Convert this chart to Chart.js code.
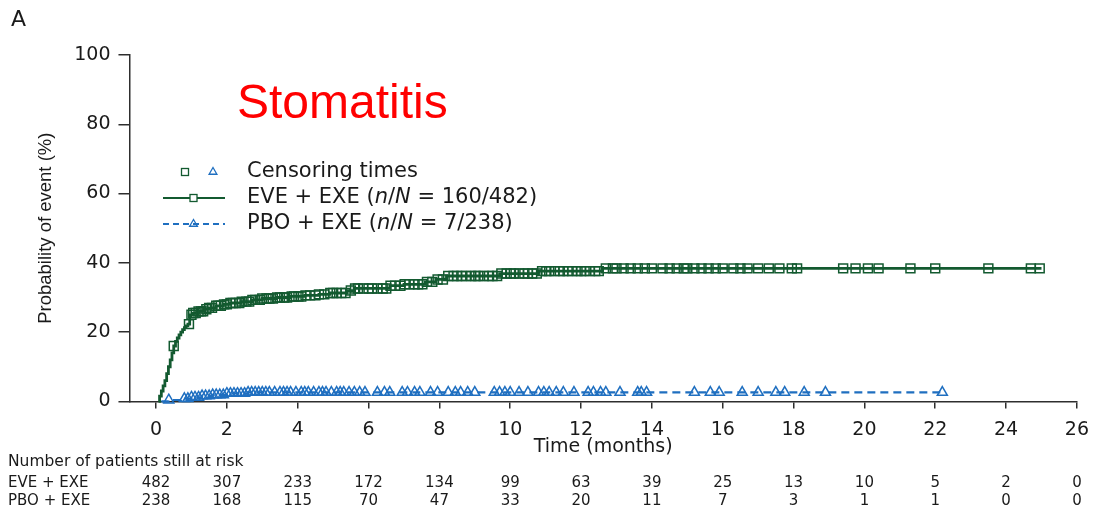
<!DOCTYPE html>
<html>
<head>
<meta charset="utf-8">
<title>Stomatitis</title>
<script src="https://cdn.jsdelivr.net/npm/chart.js@4.4.1/dist/chart.umd.min.js"></script>
<style>
  html, body { margin: 0; padding: 0; background: #fff; }
  #wrap { width: 1099px; height: 509px; position: relative; }
</style>
</head>
<body>
<div id="wrap"><canvas id="kmChart" width="1099" height="509"></canvas></div>
<script>
// ---- data ----
var xTicks = [0, 2, 4, 6, 8, 10, 12, 14, 16, 18, 20, 22, 24, 26];
var yTicks = [0, 20, 40, 60, 80, 100];

// cumulative probability of stomatitis (%), step after each event time (months)
var eveTimes = [0.07, 0.1, 0.15, 0.2, 0.25, 0.3, 0.35, 0.4, 0.45, 0.5, 0.55, 0.6, 0.65, 0.7, 0.75, 0.8, 0.85, 0.9,
                0.95, 1.05, 1.2, 1.35, 1.5, 1.7, 1.9, 2.1, 2.4, 2.7, 3.0, 3.4, 3.8, 4.2, 4.6, 4.9, 5.4, 5.6,
                6.6, 7.0, 7.6, 7.9, 8.2, 9.7, 10.8, 12.6, 25.0];
var eveProb  = [0, 1.5, 3, 4.5, 6, 8, 10, 12, 14, 16, 17.3, 18.3, 19.2, 20, 20.7, 21.3, 21.8, 22.3,
                25, 25.5, 26, 26.6, 27, 27.6, 28, 28.4, 28.8, 29.3, 29.7, 30, 30.3, 30.6, 30.9, 31.3, 32, 32.6,
                33.4, 33.8, 34.5, 35.2, 36.2, 36.9, 37.6, 38.4, 38.4];

var pboTimes = [0.15, 0.35, 0.7, 1.0, 1.3, 1.6, 2.0, 2.6, 22.2];
var pboProb  = [0, 0.4, 0.8, 1.2, 1.6, 1.9, 2.3, 2.6, 2.6];

// censoring times (months)
var eveCensor = [0.5, 0.93, 1.0, 1.05, 1.12, 1.2, 1.27, 1.33, 1.42, 1.5, 1.58, 1.7, 1.76, 1.83, 1.92, 2.0, 2.1, 2.17,
                 2.25, 2.35, 2.42, 2.55, 2.63, 2.72, 2.8, 2.93, 3.0, 3.12, 3.2, 3.3, 3.42, 3.5, 3.62, 3.7, 3.83,
                 3.9, 4.02, 4.1, 4.22, 4.35, 4.5, 4.6, 4.75, 4.92, 5.0, 5.1, 5.23, 5.35, 5.5, 5.62, 5.7, 5.85,
                 6.0, 6.1, 6.25, 6.4, 6.5, 6.62, 6.75, 6.9, 7.02, 7.15, 7.3, 7.4, 7.52, 7.65, 7.8, 7.95, 8.1,
                 8.25, 8.4, 8.5, 8.62, 8.75, 8.9, 9.02, 9.1, 9.25, 9.4, 9.5, 9.63, 9.75, 9.9, 10.02, 10.1,
                 10.25, 10.4, 10.5, 10.62, 10.75, 10.9, 11.02, 11.1, 11.25, 11.4, 11.5, 11.62, 11.75, 11.9,
                 12.0, 12.1, 12.25, 12.4, 12.5, 12.7, 12.9, 13.0, 13.2, 13.4, 13.6, 13.8, 14.0, 14.3, 14.5,
                 14.7, 14.9, 15.0, 15.2, 15.4, 15.6, 15.8, 16.0, 16.3, 16.5, 16.7, 17.0, 17.3, 17.6, 17.95,
                 18.1, 19.4, 19.75, 20.1, 20.4, 21.3, 22.0, 23.5, 24.7, 24.95];
var pboCensor = [0.36, 0.8, 0.9, 1.0, 1.1, 1.2, 1.3, 1.4, 1.5, 1.6, 1.7, 1.8, 1.9, 2.0, 2.1, 2.2, 2.3, 2.4, 2.5,
                 2.6, 2.7, 2.8, 2.9, 3.0, 3.1, 3.2, 3.35, 3.5, 3.6, 3.7, 3.8, 3.95, 4.1, 4.2, 4.3, 4.45, 4.6,
                 4.7, 4.8, 4.95, 5.1, 5.2, 5.3, 5.45, 5.6, 5.75, 5.9, 6.25, 6.45, 6.6, 6.95, 7.1, 7.3, 7.45,
                 7.75, 7.95, 8.25, 8.45, 8.6, 8.8, 9.0, 9.55, 9.7, 9.85, 10.0, 10.25, 10.5, 10.8, 10.95, 11.1,
                 11.3, 11.5, 11.8, 12.2, 12.35, 12.55, 12.7, 13.1, 13.6, 13.7, 13.85, 15.2, 15.65, 15.9,
                 16.55, 17.0, 17.5, 17.75, 18.3, 18.9, 22.2];

// number of patients still at risk at each x tick
var riskEve = [482, 307, 233, 172, 134, 99, 63, 39, 25, 13, 10, 5, 2, 0];
var riskPbo = [238, 168, 115, 70, 47, 33, 20, 11, 7, 3, 1, 1, 0, 0];

var green = "#135a30";
var blue = "#1f6fc0";
var axisColor = "#2e2e2e";
var textColor = "#1a1a1a";

Chart.defaults.font.family = "'DejaVu Sans', sans-serif";
Chart.defaults.color = textColor;

function toPoints(xs, ys) {
    var out = [];
    for (var i = 0; i < xs.length; i++) out.push({ x: xs[i], y: ys[i] });
    return out;
}

// value of the step curve at time t
function levelAt(times, probs, t) {
    var v = probs[0];
    for (var i = 0; i < times.length; i++) {
        if (times[i] <= t) v = probs[i];
    }
    return v;
}

function censorPoints(cens, times, probs) {
    var out = [];
    for (var i = 0; i < cens.length; i++) out.push({ x: cens[i], y: levelAt(times, probs, cens[i]) });
    return out;
}

// ---- extra text: panel letter, title, legend, at-risk table ----
var overlayPlugin = {
    id: "overlay",
    afterDraw: function(chart) {
        var ctx = chart.ctx;
        var xs = chart.scales.x;
        ctx.save();

        ctx.fillStyle = textColor;
        ctx.textBaseline = "middle";
        ctx.textAlign = "left";
        ctx.font = "22px 'DejaVu Sans'";
        ctx.fillText("A", 11, 20);

        ctx.fillStyle = "#ff0000";
        ctx.font = "48px 'Liberation Sans'";
        ctx.fillText("Stomatitis", 237, 105);

        // legend
        var lx = 247;
        var rows = [172, 198, 224];
        ctx.lineWidth = 1.3;
        ctx.strokeStyle = green;
        ctx.strokeRect(181.5, rows[0] - 3.5, 7, 7);
        drawTriangle(ctx, 213, rows[0], 4.5, blue);

        ctx.strokeStyle = green;
        ctx.lineWidth = 2.2;
        ctx.beginPath();
        ctx.moveTo(163, rows[1]);
        ctx.lineTo(225, rows[1]);
        ctx.stroke();
        ctx.fillStyle = "#fff";
        ctx.lineWidth = 1.3;
        ctx.fillRect(190, rows[1] - 3.5, 7, 7);
        ctx.strokeRect(190, rows[1] - 3.5, 7, 7);

        ctx.strokeStyle = blue;
        ctx.lineWidth = 2;
        ctx.setLineDash([6, 4]);
        ctx.beginPath();
        ctx.moveTo(163, rows[2]);
        ctx.lineTo(225, rows[2]);
        ctx.stroke();
        ctx.setLineDash([]);
        drawTriangle(ctx, 193.5, rows[2], 4.5, blue);

        ctx.fillStyle = textColor;
        ctx.font = "21px 'DejaVu Sans'";
        ctx.fillText("Censoring times", lx, rows[0]);
        drawRuns(ctx, lx, rows[1], [["EVE + EXE (", false], ["n", true], ["/", false], ["N", true], [" = 160/482)", false]]);
        drawRuns(ctx, lx, rows[2], [["PBO + EXE (", false], ["n", true], ["/", false], ["N", true], [" = 7/238)", false]]);

        // at-risk table
        ctx.fillStyle = textColor;
        ctx.font = "15.5px 'DejaVu Sans'";
        ctx.textAlign = "left";
        ctx.fillText("Number of patients still at risk", 8, 462);
        ctx.font = "15px 'DejaVu Sans'";
        ctx.fillText("EVE + EXE", 8, 483);
        ctx.fillText("PBO + EXE", 8, 501);
        ctx.textAlign = "center";
        for (var i = 0; i < xTicks.length; i++) {
            var px = xs.getPixelForValue(xTicks[i]);
            ctx.fillText(String(riskEve[i]), px, 483);
            ctx.fillText(String(riskPbo[i]), px, 501);
        }
        ctx.restore();
    }
};

function drawTriangle(ctx, x, y, r, color) {
    ctx.save();
    ctx.strokeStyle = color;
    ctx.lineWidth = 1.3;
    ctx.beginPath();
    ctx.moveTo(x, y - r);
    ctx.lineTo(x + r * 0.866, y + r * 0.5);
    ctx.lineTo(x - r * 0.866, y + r * 0.5);
    ctx.closePath();
    ctx.stroke();
    ctx.restore();
}

function drawRuns(ctx, x, y, runs) {
    for (var i = 0; i < runs.length; i++) {
        ctx.font = (runs[i][1] ? "oblique " : "") + "21px 'DejaVu Sans'";
        ctx.fillText(runs[i][0], x, y);
        x += ctx.measureText(runs[i][0]).width;
    }
}

var ctx = document.getElementById("kmChart").getContext("2d");
new Chart(ctx, {
    type: "line",
    data: {
        datasets: [
            {
                label: "EVE + EXE censored",
                data: censorPoints(eveCensor, eveTimes, eveProb),
                showLine: false,
                pointStyle: "rect",
                pointRadius: 6.3,
                pointBorderWidth: 1.5,
                pointBorderColor: green,
                pointBackgroundColor: "rgba(0,0,0,0)",
                clip: false,
                order: 0
            },
            {
                label: "PBO + EXE censored",
                data: censorPoints(pboCensor, pboTimes, pboProb),
                showLine: false,
                pointStyle: "triangle",
                pointRadius: 5.8,
                pointBorderWidth: 1.5,
                pointBorderColor: blue,
                pointBackgroundColor: "rgba(0,0,0,0)",
                clip: false,
                order: 0
            },
            {
                label: "EVE + EXE",
                data: toPoints(eveTimes, eveProb),
                stepped: true,
                borderColor: green,
                borderWidth: 2.8,
                pointRadius: 0,
                clip: false,
                order: 1
            },
            {
                label: "PBO + EXE",
                data: toPoints(pboTimes, pboProb),
                stepped: true,
                borderColor: blue,
                borderWidth: 2.2,
                borderDash: [8, 5],
                pointRadius: 0,
                clip: false,
                order: 1
            }
        ]
    },
    options: {
        responsive: false,
        animation: false,
        devicePixelRatio: 1,
        layout: { padding: { left: 35, right: 17, top: 55, bottom: 51 } },
        plugins: {
            legend: { display: false },
            tooltip: { enabled: false }
        },
        scales: {
            x: {
                type: "linear",
                min: -0.75,
                max: 26,
                afterBuildTicks: function(scale) {
                    scale.ticks = xTicks.map(function(v) { return { value: v }; });
                },
                grid: { display: true, drawOnChartArea: false, drawTicks: true, tickLength: 7, color: axisColor, lineWidth: 1.5 },
                border: { display: true, color: axisColor, width: 1.5 },
                ticks: { padding: 10, color: textColor, font: { size: 19 }, maxRotation: 0, autoSkip: false },
                title: { display: true, text: "Time (months)", color: textColor, font: { size: 19 }, padding: { top: -16, bottom: 0 } }
            },
            y: {
                min: 0,
                max: 100,
                afterBuildTicks: function(scale) {
                    scale.ticks = yTicks.map(function(v) { return { value: v }; });
                },
                grid: { display: true, drawOnChartArea: false, drawTicks: true, tickLength: 11, color: axisColor, lineWidth: 1.5 },
                border: { display: true, color: axisColor, width: 1.5 },
                ticks: { padding: 8, color: textColor, font: { size: 19 } },
                title: { display: true, text: "Probability of event (%)", color: textColor, font: { family: "'Liberation Sans'", size: 18.5 }, padding: { top: 0, bottom: 9 } }
            }
        }
    },
    plugins: [overlayPlugin]
});
</script>
</body>
</html>
